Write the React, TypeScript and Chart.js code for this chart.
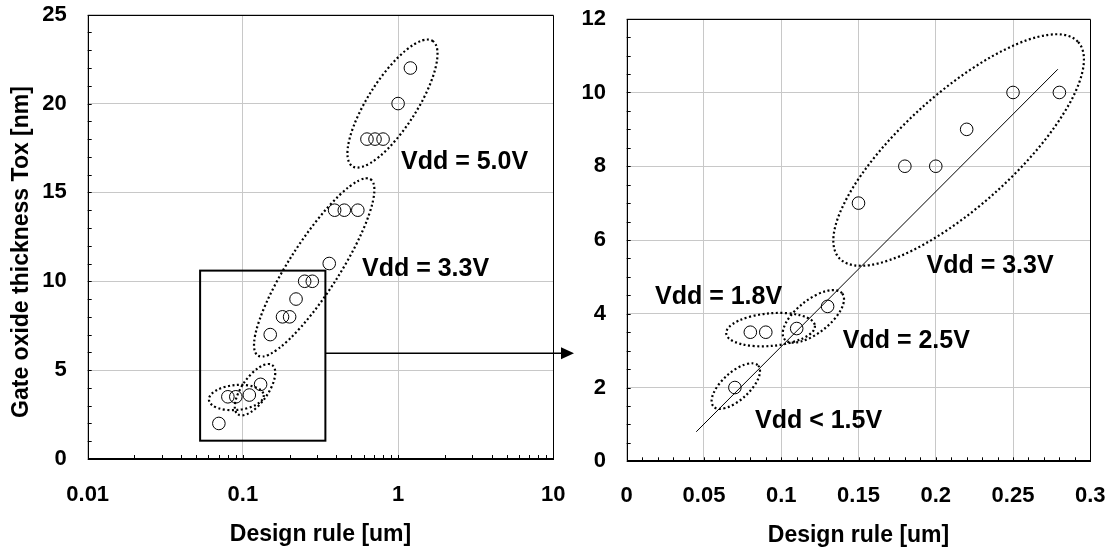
import React, { useEffect, useRef } from "react";
import { Chart, registerables } from "chart.js";

Chart.register(...registerables);

// ---------- data ----------
const designRule = [0.07, 0.08, 0.09, 0.11, 0.13, 0.15, 0.18, 0.2, 0.22, 0.25, 0.28, 0.36, 0.39, 0.45, 0.55, 0.63, 0.71, 0.8, 1.0, 1.2];
const oxideThickness = [2, 3.5, 3.5, 3.6, 4.2, 7, 8, 8, 9, 10, 10, 11, 14, 14, 14, 18, 18, 18, 20, 22];
const trendRule = [0.045, 0.279];
const trendTox = [0.8, 10.63];
const zoomMaxRule = 0.3;

const leftXTicks = [0.01, 0.1, 1, 10];
const leftYTicks = [0, 5, 10, 15, 20, 25];
const rightXTicks = [0, 0.05, 0.1, 0.15, 0.2, 0.25, 0.3];
const rightYTicks = [0, 2, 4, 6, 8, 10, 12];

// annotation anchors (data coordinates) and sizes (px)
const leftEllipses = [
  { x: 0.92, y: 20.0, a: 74.4, b: 24.4, rot: 57.4 },
  { x: 0.288, y: 10.78, a: 104.6, b: 25.1, rot: 57.4 },
  { x: 0.1197, y: 3.9, a: 30, b: 13, rot: 55 },
  { x: 0.0907, y: 3.46, a: 27.5, b: 12.5, rot: 5 },
];
const leftLabels = [
  { text: "Vdd = 5.0V", x: 1.044, y: 16.71 },
  { text: "Vdd = 3.3V", x: 0.585, y: 10.69 },
];
const rightEllipses = [
  { x: 0.2148, y: 8.44, a: 161.1, b: 56.1, rot: 42.1 },
  { x: 0.1208, y: 3.93, a: 36.8, b: 16.6, rot: 38.3 },
  { x: 0.0931, y: 3.57, a: 44.5, b: 16.3, rot: 5 },
  { x: 0.0706, y: 2.04, a: 30.3, b: 13.7, rot: 42.4 },
];
const rightLabels = [
  { text: "Vdd = 3.3V", x: 0.194, y: 5.3 },
  { text: "Vdd = 1.8V", x: 0.0183, y: 4.44 },
  { text: "Vdd = 2.5V", x: 0.1398, y: 3.27 },
  { text: "Vdd < 1.5V", x: 0.083, y: 1.1 },
];
const zoomBox = { x0: 0.053, x1: 0.34, y0: 1.03, y1: 10.6, arrowY: 5.95 };

// ---------- style ----------
const FONT = "'Liberation Sans', Arial, Helvetica, sans-serif";
const GRID = "#c8c8c8";

function minorLog(): number[] {
  const out: number[] = [];
  for (const d of [0.01, 0.1, 1]) for (let m = 1; m <= 9; m++) out.push(d * m);
  out.push(10);
  return out;
}
function minorLin(min: number, max: number, step: number): number[] {
  const out: number[] = [];
  const n = Math.round((max - min) / step);
  for (let i = 0; i <= n; i++) out.push(min + i * step);
  return out;
}

function overlay(cfg: any) {
  return {
    id: "overlay",
    afterDatasetsDraw(chart: any) {
      const { ctx, chartArea: ca } = chart;
      const x = chart.scales.x;
      const y = chart.scales.y;
      ctx.save();
      ctx.strokeStyle = "#000";
      ctx.fillStyle = "#000";
      // minor ticks (inward)
      ctx.lineWidth = 1;
      ctx.beginPath();
      for (const v of cfg.xMinor) {
        const px = Math.round(x.getPixelForValue(v)) + 0.5;
        ctx.moveTo(px, ca.bottom);
        ctx.lineTo(px, ca.bottom - 4);
      }
      for (const v of cfg.yMinor) {
        const py = Math.round(y.getPixelForValue(v)) + 0.5;
        ctx.moveTo(ca.left, py);
        ctx.lineTo(ca.left + 4, py);
      }
      ctx.stroke();
      // frame
      const l = Math.round(ca.left) + 0.5;
      const t = Math.round(ca.top) + 0.5;
      const r = Math.round(ca.right) + 0.5;
      const b = Math.round(ca.bottom);
      ctx.beginPath();
      ctx.moveTo(l, b);
      ctx.lineTo(l, t);
      ctx.lineTo(r, t);
      ctx.lineTo(r, b);
      ctx.stroke();
      ctx.lineWidth = 2;
      ctx.beginPath();
      ctx.moveTo(l - 0.5, b);
      ctx.lineTo(r + 0.5, b);
      ctx.stroke();
      // ellipses
      ctx.lineWidth = 2.2;
      ctx.setLineDash([2, 2.5]);
      for (const e of cfg.ellipses) {
        ctx.beginPath();
        ctx.ellipse(x.getPixelForValue(e.x), y.getPixelForValue(e.y), e.a, e.b, (-e.rot * Math.PI) / 180, 0, Math.PI * 2);
        ctx.stroke();
      }
      ctx.setLineDash([]);
      // labels
      ctx.font = `bold 25px ${FONT}`;
      ctx.textAlign = "left";
      ctx.textBaseline = "middle";
      for (const lb of cfg.labels) {
        ctx.fillText(lb.text, x.getPixelForValue(lb.x), y.getPixelForValue(lb.y));
      }
      if (cfg.extra) cfg.extra(chart, ctx, x, y, ca);
      ctx.restore();
    },
  };
}

function axisTicks(values: number[]) {
  return (s: any) => {
    s.ticks = values.map((v) => ({ value: v }));
  };
}

function baseScales(opts: any) {
  const tickFont = { family: FONT, size: 22, weight: "bold" as const };
  const titleFont = { family: FONT, size: 23, weight: "bold" as const };
  return {
    x: {
      type: opts.xType,
      min: opts.xMin,
      max: opts.xMax,
      afterBuildTicks: axisTicks(opts.xTicks),
      afterFit: (s: any) => {
        s.height = opts.xHeight;
        s.paddingLeft = 0;
        s.paddingRight = 0;
      },
      grid: { color: GRID, lineWidth: 1, drawTicks: false },
      border: { display: false },
      ticks: {
        font: tickFont,
        color: "#000",
        padding: opts.xPad,
        autoSkip: false,
        maxRotation: 0,
        callback: (v: any) => String(v),
      },
      title: {
        display: true,
        text: "Design rule [um]",
        font: titleFont,
        color: "#000",
        padding: { top: 0, bottom: opts.titlePad },
      },
    },
    y: {
      type: "linear",
      min: opts.yMin,
      max: opts.yMax,
      afterBuildTicks: axisTicks(opts.yTicks),
      afterFit: (s: any) => {
        s.width = opts.yWidth;
        s.paddingTop = 0;
        s.paddingBottom = 0;
      },
      grid: { color: GRID, lineWidth: 1, drawTicks: false },
      border: { display: false },
      ticks: {
        font: tickFont,
        color: "#000",
        padding: opts.yPad,
        callback: (v: any) => String(v),
      },
    },
  };
}

const pointStyle = {
  pointRadius: 6.3,
  pointHoverRadius: 6.3,
  pointBorderWidth: 1,
  pointBorderColor: "#000",
  pointBackgroundColor: "rgba(0,0,0,0)",
  showLine: false,
};

export default function App() {
  const leftRef = useRef<HTMLCanvasElement>(null);
  const rightRef = useRef<HTMLCanvasElement>(null);

  useEffect(() => {
    const pts = designRule.map((d, i) => ({ x: d, y: oxideThickness[i] }));
    const zoomPts = pts.filter((p) => p.x <= zoomMaxRule);
    const trend = trendRule.map((d, i) => ({ x: d, y: trendTox[i] }));

    const left = new Chart(leftRef.current as HTMLCanvasElement, {
      type: "scatter",
      data: { datasets: [{ data: pts, ...pointStyle } as any] },
      options: {
        animation: false,
        responsive: false,
        events: [],
        layout: { padding: { left: 0, top: 14.7, right: 46.7, bottom: 0 } },
        plugins: { legend: { display: false }, tooltip: { enabled: false } },
        scales: baseScales({
          xType: "logarithmic",
          xMin: 0.01,
          xMax: 10,
          xTicks: leftXTicks,
          xHeight: 93,
          xPad: 22.8,
          titlePad: 3.2,
          yMin: 0,
          yMax: 25,
          yTicks: leftYTicks,
          yWidth: 87.7,
          yPad: 21,
        }) as any,
      },
      plugins: [
        overlay({
          xMinor: minorLog(),
          yMinor: minorLin(0, 25, 1),
          ellipses: leftEllipses,
          labels: leftLabels,
          extra: (chart: any, ctx: any, x: any, y: any, ca: any) => {
            // zoom rectangle
            const rx0 = x.getPixelForValue(zoomBox.x0);
            const rx1 = x.getPixelForValue(zoomBox.x1);
            const ry0 = y.getPixelForValue(zoomBox.y0);
            const ry1 = y.getPixelForValue(zoomBox.y1);
            ctx.lineWidth = 2;
            ctx.strokeRect(rx0, ry1, rx1 - rx0, ry0 - ry1);
            // arrow
            const ay = y.getPixelForValue(zoomBox.arrowY);
            const tip = ca.right + 20.7;
            ctx.lineWidth = 1.5;
            ctx.beginPath();
            ctx.moveTo(rx1, ay);
            ctx.lineTo(tip - 10, ay);
            ctx.stroke();
            ctx.beginPath();
            ctx.moveTo(tip, ay);
            ctx.lineTo(tip - 13, ay - 6);
            ctx.lineTo(tip - 13, ay + 6);
            ctx.closePath();
            ctx.fill();
            // y-axis title
            ctx.save();
            ctx.translate(22, 252);
            ctx.rotate(-Math.PI / 2);
            ctx.font = `bold 23px ${FONT}`;
            ctx.textAlign = "center";
            ctx.textBaseline = "middle";
            ctx.fillText("Gate oxide thickness Tox [nm]", 0, 0);
            ctx.restore();
          },
        }),
      ],
    });

    const right = new Chart(rightRef.current as HTMLCanvasElement, {
      type: "scatter",
      data: {
        datasets: [
          { data: zoomPts, ...pointStyle } as any,
          {
            data: trend,
            showLine: true,
            borderColor: "#000",
            borderWidth: 1,
            pointRadius: 0,
            pointHoverRadius: 0,
          } as any,
        ],
      },
      options: {
        animation: false,
        responsive: false,
        events: [],
        layout: { padding: { left: 0, top: 18.7, right: 21.7, bottom: 0 } },
        plugins: { legend: { display: false }, tooltip: { enabled: false } },
        scales: baseScales({
          xType: "linear",
          xMin: 0,
          xMax: 0.3,
          xTicks: rightXTicks,
          xHeight: 90.7,
          xPad: 21.5,
          titlePad: 2.2,
          yMin: 0,
          yMax: 12,
          yTicks: rightYTicks,
          yWidth: 70.7,
          yPad: 20.7,
        }) as any,
      },
      plugins: [
        overlay({
          xMinor: minorLin(0, 0.3, 0.01),
          yMinor: minorLin(0, 12, 0.5),
          ellipses: rightEllipses,
          labels: rightLabels,
        }),
      ],
    });

    return () => {
      left.destroy();
      right.destroy();
    };
  }, []);

  return (
    <div style={{ position: "fixed", left: 0, top: 0, width: 1112, height: 552, background: "#fff" }}>
      <canvas ref={leftRef} width={600} height={552} style={{ position: "absolute", left: 0, top: 0 }} />
      <canvas ref={rightRef} width={556} height={552} style={{ position: "absolute", left: 556, top: 0 }} />
    </div>
  );
}
